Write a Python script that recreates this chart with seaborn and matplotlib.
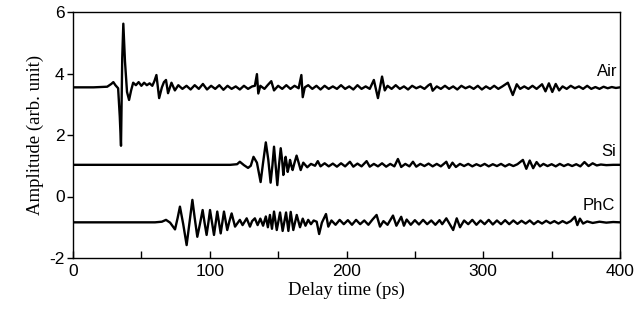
import matplotlib
matplotlib.use("Agg")
import matplotlib.pyplot as plt
import seaborn as sns
import pandas as pd
from matplotlib.ticker import MultipleLocator

# ---------------- data ----------------
air_time = [0, 15, 25, 28, 29.5, 31, 33, 34.2, 35.1, 36, 36.8, 38, 39.5, 41, 42.5, 44, 46, 48, 50, 52,
            54, 56, 58, 59.5, 61, 63, 65, 66.5, 68, 69.5, 72, 74.5, 77, 80, 83, 86, 89, 92, 95, 98,
            101, 104, 107, 110, 113, 116, 119, 122, 125, 128, 131, 133, 134.5, 135.5, 137, 140, 142.5, 145, 147, 150,
            153, 156, 159, 162, 165, 167, 168, 169.5, 172, 175, 178, 181, 184, 187, 190, 193, 196, 199, 202, 205,
            208, 211, 214, 217, 220, 223, 226, 228, 230, 233, 236, 239, 242, 245, 248, 251, 254, 257, 260, 261.5,
            263, 266, 269, 272, 275, 278, 281, 284, 287, 290, 293, 296, 299, 302, 305, 308, 311, 314, 318, 321.6,
            324.5, 327, 330, 333, 336, 339, 343, 345.5, 348, 350.5, 353, 355.5, 358, 361, 364, 367, 370, 373, 376, 379,
            382, 385, 388, 391, 394, 397, 400]
air_amp = [3.55, 3.55, 3.57, 3.66, 3.72, 3.62, 3.52, 2.6, 1.65, 4.5, 5.62, 4.4, 3.4, 3.14, 3.45, 3.7, 3.62, 3.72, 3.6, 3.7,
           3.62, 3.68, 3.6, 3.75, 3.95, 3.2, 3.55, 3.72, 3.79, 3.36, 3.7, 3.45, 3.62, 3.5, 3.6, 3.48, 3.62, 3.5, 3.66, 3.48,
           3.6, 3.5, 3.62, 3.47, 3.6, 3.5, 3.58, 3.48, 3.6, 3.5, 3.58, 3.6, 3.98, 3.35, 3.6, 3.5, 3.63, 3.75, 3.45, 3.6,
           3.5, 3.62, 3.5, 3.6, 3.52, 3.95, 3.23, 3.55, 3.62, 3.5, 3.6, 3.48, 3.6, 3.5, 3.58, 3.5, 3.62, 3.5, 3.58, 3.48,
           3.62, 3.5, 3.58, 3.5, 3.79, 3.2, 3.9, 3.45, 3.6, 3.5, 3.62, 3.5, 3.58, 3.48, 3.6, 3.52, 3.58, 3.5, 3.62, 3.66,
           3.44, 3.58, 3.5, 3.6, 3.5, 3.58, 3.48, 3.6, 3.52, 3.58, 3.5, 3.6, 3.48, 3.58, 3.5, 3.6, 3.5, 3.58, 3.7, 3.3,
           3.65, 3.5, 3.58, 3.5, 3.6, 3.5, 3.65, 3.42, 3.68, 3.4, 3.66, 3.45, 3.58, 3.5, 3.6, 3.52, 3.58, 3.5, 3.6, 3.5,
           3.56, 3.5, 3.57, 3.52, 3.56, 3.53, 3.55]

si_time = [0, 115, 120, 122, 125, 128, 130, 132, 134.5, 137.2, 139, 141, 142.8, 144.5, 145.8, 147, 148.2, 149.4, 150.6, 151.9,
           152.9, 153.8, 154.6, 155.5, 156.3, 157, 158, 158.7, 159.7, 160.6, 162, 163.5, 165, 166.5, 168.4, 171.3, 174, 177, 179, 181,
           184, 187, 190, 193, 196, 199, 202.5, 205, 208, 211, 214.7, 217, 220, 223, 226, 229, 232, 235, 237.6, 240,
           243, 246, 248.6, 251, 254, 257, 260, 263, 266, 269, 273, 275, 277.5, 280, 283, 286, 289, 292, 295, 298,
           301, 304, 307, 310, 313, 316, 319, 322, 325, 329, 331.5, 334, 336.5, 339, 341.5, 344, 347, 350, 353, 356,
           359, 362, 365, 368, 371, 374, 377, 380, 383, 386, 390, 395, 400]
si_amp = [1.03, 1.03, 1.05, 1.13, 1.02, 0.93, 1.0, 1.29, 1.1, 0.47, 1.1, 1.76, 1.2, 0.45, 1.0, 1.62, 1.0, 0.37, 1.0, 1.57,
          1.2, 0.7, 1.0, 1.29, 1.05, 0.8, 1.0, 1.19, 1.0, 0.86, 1.1, 1.33, 1.1, 0.86, 1.1, 0.95, 1.06, 1.0, 1.15, 0.98,
          1.08, 0.98, 1.07, 0.97, 1.08, 0.98, 1.13, 0.97, 1.07, 0.98, 1.15, 0.97, 1.06, 0.98, 1.08, 0.97, 1.06, 0.98, 1.22, 0.96,
          1.06, 0.98, 1.13, 0.97, 1.06, 0.99, 1.07, 0.98, 1.06, 0.98, 1.13, 0.93, 1.1, 0.96, 1.06, 0.99, 1.06, 0.98, 1.05, 0.99,
          1.06, 0.98, 1.05, 0.99, 1.06, 0.98, 1.05, 0.99, 1.05, 1.19, 0.9, 1.17, 0.92, 1.12, 0.98, 1.06, 0.99, 1.05, 0.98, 1.06,
          0.99, 1.05, 0.99, 1.05, 0.98, 1.12, 0.99, 1.08, 1.01, 1.04, 1.02, 1.03, 1.03]

phc_time = [0, 60, 65, 68, 71, 74.6, 76.5, 78.2, 80.6, 83.1, 85.2, 87.3, 89, 90.9, 92.8, 94.8, 96.2, 97.7, 99, 100.2,
            101.7, 103.1, 104.3, 105.5, 106.8, 108, 109.2, 110.4, 111.6, 112.8, 114.4, 116, 118.5, 122, 124, 127, 129.4, 131, 133, 135,
            137, 139, 141, 142.5, 144, 145.5, 147, 149, 151.4, 153.3, 155.8, 157.5, 159.2, 161.1, 163.6, 166, 168, 170, 172, 174,
            176, 178.2, 180, 182, 185, 186.7, 189, 192, 195, 198, 201, 204, 207, 210, 213, 216, 219, 222, 224.5, 227,
            230, 234, 236.5, 240, 242, 244, 247, 250, 253, 256, 259, 262, 265, 268, 270, 273, 275.5, 278, 280.6, 283,
            286, 289, 292, 295, 298, 301, 304, 307, 310, 313, 316, 319, 322, 325, 328, 331, 334, 337, 340, 343,
            346, 349, 352, 355, 358, 361, 364, 367, 368.8, 370.7, 373, 376, 380, 385, 390, 395, 400]
phc_amp = [-0.84, -0.84, -0.82, -0.76, -0.85, -1.07, -0.7, -0.33, -0.9, -1.58, -0.85, -0.11, -0.7, -1.31, -0.9, -0.44, -0.85, -1.25, -0.85, -0.44,
           -0.85, -1.25, -0.87, -0.49, -0.85, -1.2, -0.85, -0.49, -0.8, -1.09, -0.8, -0.55, -0.98, -0.76, -0.93, -0.71, -0.98, -0.8, -0.71, -0.93,
           -0.72, -0.95, -0.65, -1.0, -0.6, -1.05, -0.49, -1.09, -0.52, -1.12, -0.52, -1.12, -0.5, -1.09, -0.6, -1.0, -0.72, -0.95, -0.76, -0.9,
           -0.78, -0.82, -1.22, -0.85, -0.57, -0.98, -0.78, -0.92, -0.76, -0.9, -0.77, -0.92, -0.76, -0.9, -0.78, -0.92, -0.75, -0.6, -0.98, -0.8,
           -0.92, -0.62, -0.95, -0.66, -0.95, -0.75, -0.92, -0.77, -0.91, -0.76, -0.9, -0.78, -0.92, -0.77, -0.9, -0.71, -0.9, -1.09, -0.71, -1.0,
           -0.78, -0.9, -0.76, -0.92, -0.78, -0.9, -0.76, -0.91, -0.78, -0.9, -0.77, -0.9, -0.78, -0.89, -0.79, -0.88, -0.78, -0.9, -0.8, -0.88,
           -0.79, -0.87, -0.8, -0.88, -0.8, -0.87, -0.8, -0.66, -0.93, -0.72, -0.88, -0.81, -0.86, -0.82, -0.85, -0.83, -0.84]

labels = ["Air", "Si", "PhC"]
label_pos = [(398, 4.05), (397, 1.45), (396, -0.28)]

x_ticks = [0, 100, 200, 300, 400]
y_ticks = [-2, 0, 2, 4, 6]

# ---------------- figure ----------------
sns.set_theme(style="white")
plt.rcParams["font.family"] = ["Liberation Sans", "DejaVu Sans"]
plt.rcParams["axes.unicode_minus"] = False
plt.rcParams["text.color"] = "black"
plt.rcParams["axes.labelcolor"] = "black"

fig = plt.figure(figsize=(6.42, 3.25), dpi=100)
ax = fig.add_axes([73 / 642, 1 - 258 / 325, (620 - 73) / 642, (258 - 12) / 325])

frames = []
for name, t, a in [("Air", air_time, air_amp), ("Si", si_time, si_amp), ("PhC", phc_time, phc_amp)]:
    frames.append(pd.DataFrame({"time": t, "amp": a, "sample": name}))
df = pd.concat(frames, ignore_index=True)

for name in labels:
    sub = df[df["sample"] == name]
    sns.lineplot(data=sub, x="time", y="amp", ax=ax, color="black", lw=1.7,
                 estimator=None, sort=False, legend=False,
                 solid_joinstyle="round", solid_capstyle="round")

for name, (lx, ly) in zip(labels, label_pos):
    ax.text(lx, ly, name, ha="right", va="center", fontsize=12, color="black",
            family=["Liberation Sans", "DejaVu Sans"])

ax.set_xlim(0, 400)
ax.set_ylim(-2, 6)
ax.set_xticks(x_ticks)
ax.set_yticks(y_ticks)
ax.xaxis.set_minor_locator(MultipleLocator(50))

for sp in ax.spines.values():
    sp.set_color("black")
    sp.set_linewidth(1.0)

ax.tick_params(axis="x", which="both", direction="in", length=5, width=1.0,
               labelsize=12.5, colors="black", pad=4, bottom=True, top=False)
ax.tick_params(axis="y", which="major", direction="out", length=4, width=1.0,
               labelsize=12.5, colors="black", pad=2, left=True, right=False)

ax.set_xlabel("Delay time (ps)", fontsize=13.5, color="black",
              family=["Liberation Serif", "DejaVu Serif"], labelpad=2)
ax.set_ylabel("Amplitude (arb. unit)", fontsize=13.5, color="black",
              family=["Liberation Serif", "DejaVu Serif"], labelpad=4)

fig.savefig("out.png", dpi=100)
